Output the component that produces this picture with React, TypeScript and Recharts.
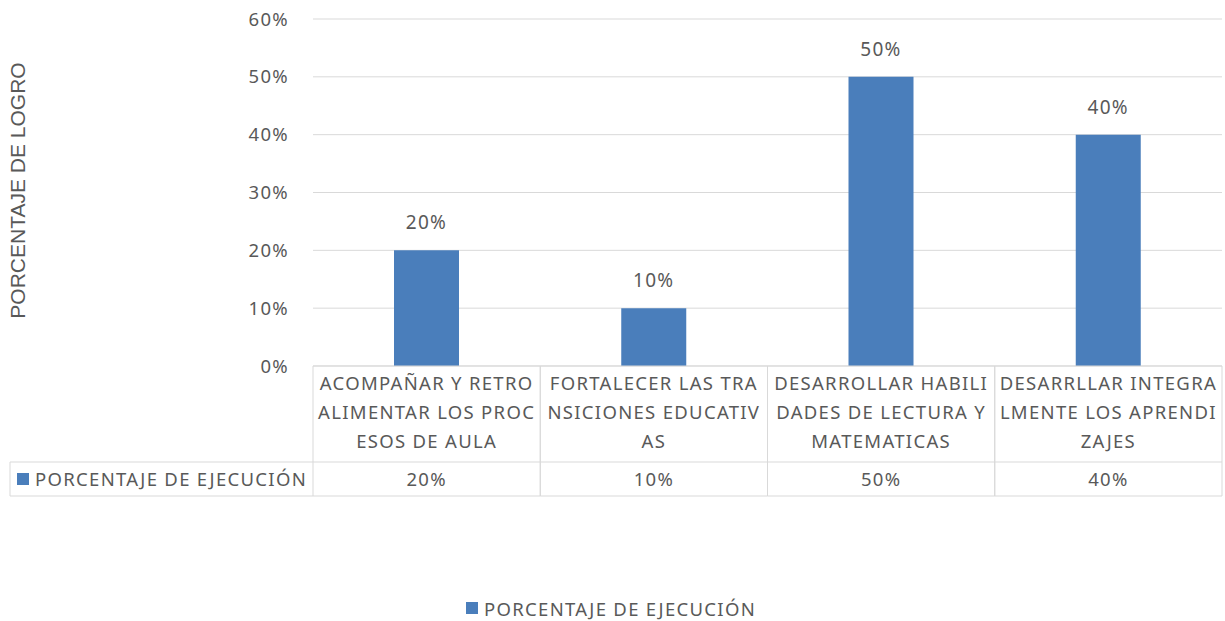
import React from 'react';
import {
  BarChart, Bar, XAxis, YAxis, CartesianGrid, Legend, LabelList,
} from 'recharts';

const seriesName = 'PORCENTAJE DE EJECUCIÓN';
const axisTitle = 'PORCENTAJE DE LOGRO';

// Category labels, wrapped the way the original table wraps them
const categoryLines = [
  ['ACOMPAÑAR Y RETRO', 'ALIMENTAR LOS PROC', 'ESOS DE AULA'],
  ['FORTALECER LAS TRA', 'NSICIONES EDUCATIV', 'AS'],
  ['DESARROLLAR HABILI', 'DADES DE LECTURA Y', 'MATEMATICAS'],
  ['DESARRLLAR INTEGRA', 'LMENTE LOS APRENDI', 'ZAJES'],
];
const values = [20, 10, 50, 40];
const yTicks = [0, 10, 20, 30, 40, 50, 60];

const data = categoryLines.map((lines, i) => ({
  name: lines.join(''),
  value: values[i],
}));

const FONT = '"Noto Sans", sans-serif';
const FS = 18.5;
const LS = 1.3;
const TEXT = '#595959';
const BORDER = '#d9d9d9';
const BLUE = '#4a7ebb';
const pct = (v: number) => `${v}%`;

const TableTick = (props: any) => {
  const { x, y, payload } = props;
  const i = payload.index;
  const half = payload.offset ?? 113.6;
  const left = x - half;
  const right = x + half;
  const rowTop = y + 96;
  const rowBottom = y + 130;
  const txt = { fill: TEXT, fontSize: FS, fontFamily: FONT, letterSpacing: LS };
  return (
    <g>
      <line x1={left} y1={y} x2={left} y2={rowBottom} stroke={BORDER} />
      <line x1={right} y1={y} x2={right} y2={rowBottom} stroke={BORDER} />
      <line x1={left} y1={rowTop} x2={right} y2={rowTop} stroke={BORDER} />
      <line x1={left} y1={rowBottom} x2={right} y2={rowBottom} stroke={BORDER} />
      {categoryLines[i].map((t, k) => (
        <text key={k} x={x} y={y + 24 + k * 29} textAnchor="middle" {...txt}>{t}</text>
      ))}
      <text x={x} y={rowTop + 24} textAnchor="middle" {...txt}>{pct(values[i])}</text>
      {i === 0 && (
        <g>
          <line x1={10} y1={rowTop} x2={left} y2={rowTop} stroke={BORDER} />
          <line x1={10} y1={rowBottom} x2={left} y2={rowBottom} stroke={BORDER} />
          <line x1={10} y1={rowTop} x2={10} y2={rowBottom} stroke={BORDER} />
          <rect x={17} y={rowTop + 11} width={12} height={12} fill={BLUE} />
          <text x={35} y={rowTop + 24} {...txt}>{seriesName}</text>
        </g>
      )}
    </g>
  );
};

const LegendContent = () => (
  <div style={{
    height: 24, display: 'flex', justifyContent: 'center', alignItems: 'center',
    fontFamily: FONT, fontSize: FS, letterSpacing: LS, color: TEXT,
  }}>
    <span style={{ width: 12, height: 12, background: BLUE, marginRight: 6, display: 'inline-block' }} />
    <span>{seriesName}</span>
  </div>
);

export default function App() {
  return (
    <div style={{ position: 'absolute', left: 0, top: 0, background: '#fff' }}>
      <BarChart width={1225} height={621} data={data}
        margin={{ top: 19, right: 3, bottom: 1, left: 0 }}>
        <CartesianGrid vertical={false} stroke={BORDER} />
        <XAxis dataKey="name" height={230} axisLine={{ stroke: BORDER }}
          tickLine={false} tickSize={0} tickMargin={0} interval={0} tick={<TableTick />} />
        <YAxis width={313} domain={[0, 60]} ticks={yTicks} tickFormatter={pct}
          axisLine={false} tickLine={false} tickMargin={18}
          tick={{ fill: TEXT, fontSize: FS, fontFamily: FONT, letterSpacing: LS }}
          label={{
            content: ({ viewBox }: any) => (
              <text x={0} y={0} textAnchor="middle" fill={TEXT} fontSize={21}
                fontFamily='"Liberation Sans", Arial, sans-serif'
                transform={`translate(25, ${viewBox.y + viewBox.height / 2 - 2}) rotate(-90)`}>
                {axisTitle}
              </text>
            ),
          }} />
        <Legend verticalAlign="bottom" content={<LegendContent />} />
        <Bar dataKey="value" name={seriesName} fill={BLUE} barSize={65}
          isAnimationActive={false}>
          <LabelList dataKey="value" position="top" offset={21} formatter={pct}
            fill={TEXT} fontSize={19} fontFamily={FONT} letterSpacing={LS} />
        </Bar>
      </BarChart>
    </div>
  );
}
